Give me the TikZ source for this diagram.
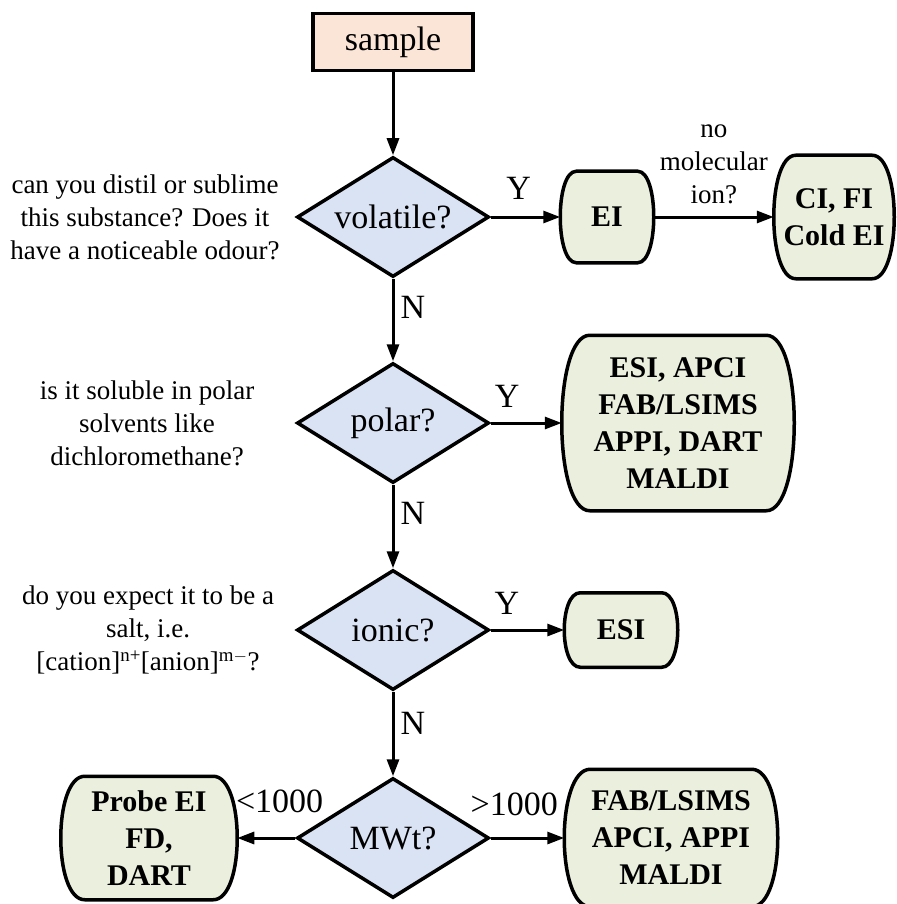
\documentclass[tikz,border=0pt]{standalone}
\usepackage{fontspec}
\setmainfont{Liberation Serif}
\usetikzlibrary{arrows.meta,positioning,shapes.geometric,calc,backgrounds}

\definecolor{samplefill}{RGB}{251,229,214}
\definecolor{testfill}{RGB}{218,227,243}
\definecolor{methodfill}{RGB}{235,239,222}

\begin{document}
\begin{tikzpicture}[x=1pt,y=-1pt,on grid,line width=3.5pt,
    >={Triangle[length=17pt,width=12pt]}]
  \tikzstyle{start}=[draw,rectangle,fill=samplefill,minimum width=160pt,minimum height=57pt,font=\fontsize{34}{40}\selectfont]
  \tikzstyle{test}=[draw,diamond,fill=testfill,aspect=1.6,inner sep=0pt,minimum width=192pt,minimum height=120pt,font=\fontsize{34}{40}\selectfont]
  \tikzstyle{method}=[rectangle,align=center,inner sep=0pt,font=\fontsize{30}{37}\selectfont\bfseries]
  \tikzstyle{question}=[align=center,font=\fontsize{27}{33}\selectfont]
  \tikzstyle{answer}=[font=\fontsize{34}{40}\selectfont,inner sep=2pt]

  \useasboundingbox (0,0) rectangle (896,904);

  \node[start] (sample) at (393,42) {sample};
  \node[test] (volatile) [below=175pt of sample]  {volatile?};
  \node[test] (polar)    [below=206pt of volatile] {polar?};
  \node[test] (ionic)    [below=207pt of polar]    {ionic?};
  \node[test] (mwt)      [below=208pt of ionic]    {MWt?};

  \node[method,minimum width=90pt,minimum height=88pt]   (ei)      [right=214pt of volatile] {EI};
  \node[method,minimum width=117pt,minimum height=120pt] (cifi)    [right=227pt of ei]       {CI, FI\\Cold EI};
  \node[method,minimum width=229pt,minimum height=172pt] (esiapci) [right=285pt of polar]    {ESI, APCI\\FAB/LSIMS\\APPI, DART\\MALDI};
  \node[method,minimum width=110pt,minimum height=71pt]  (esi)     [right=228pt of ionic]    {ESI};
  \node[method,minimum width=210pt,minimum height=134pt] (fab)     [right=278pt of mwt]      {FAB/LSIMS\\APCI, APPI\\MALDI};
  \node[method,minimum width=173pt,minimum height=120pt] (probe)   [left=244pt of mwt]       {Probe EI\\FD,\\DART};

  \node[question] (q_volatile) [left=248pt of volatile] {can you distil or sublime\\this substance? Does it\\have a noticeable odour?};
  \node[question] (q_polar)    [left=246pt of polar]    {is it soluble in polar\\solvents like\\dichloromethane?};
  \node[question] (q_ionic)    [left=245pt of ionic]    {do you expect it to be a\\salt, i.e.\\{[cation]}\textsuperscript{n+}{[anion]}\textsuperscript{m$-$}?};

  % frames of the method boxes: flat top and bottom, bulging sides
  \begin{scope}[on background layer]
    \foreach \n/\c in {ei/16,cifi/22,esiapci/28,esi/16,fab/26,probe/24}
      \draw[line width=3.5pt,fill=methodfill]
        ($(\n.north west)+(\c pt,0pt)$) -- ($(\n.north east)+(-\c pt,0pt)$)
        .. controls ($(\n.north east)+(\c pt/3,0pt)$) and ($(\n.south east)+(\c pt/3,0pt)$) .. ($(\n.south east)+(-\c pt,0pt)$)
        -- ($(\n.south west)+(\c pt,0pt)$)
        .. controls ($(\n.south west)+(-\c pt/3,0pt)$) and ($(\n.north west)+(-\c pt/3,0pt)$) .. cycle;
  \end{scope}

  \path[->,line width=3pt]
  (sample)   edge (volatile)
  (volatile) edge node[answer,right=4pt,pos=0.35] {N} (polar)
  (polar)    edge node[answer,right=4pt,pos=0.34] {N} (ionic)
  (ionic)    edge node[answer,right=4pt,pos=0.37] {N} (mwt)
  (volatile) edge node[answer,above=14pt,pos=0.4] {Y} (ei)
  (polar)    edge node[answer,above=12pt,pos=0.23] {Y} (esiapci)
  (ionic)    edge node[answer,above=12pt,pos=0.22] {Y} (esi)
  (ei)       edge node[question,above=8pt] {no\\molecular\\ion?} (cifi)
  (mwt)      edge node[answer,above=22pt,pos=0.27] {<1000} (probe)
  (mwt)      edge node[answer,above=19pt,pos=0.32] {>1000} (fab);
\end{tikzpicture}
\end{document}
